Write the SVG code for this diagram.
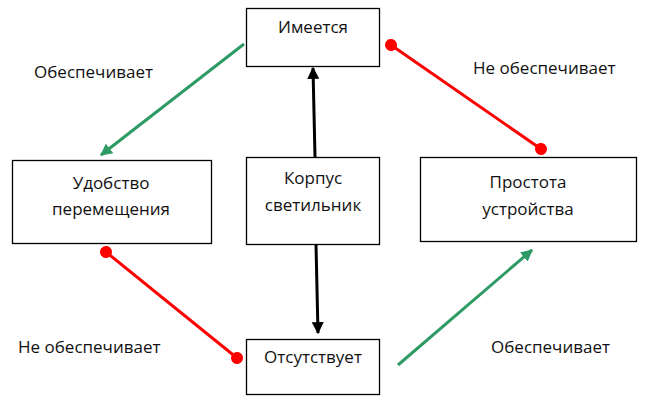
<svg xmlns="http://www.w3.org/2000/svg" width="650" height="400" viewBox="0 0 650 400">
  <style>
    .box { fill: #ffffff; stroke: #000000; stroke-width: 1.3; }
    .t { font-family: "Open Sans", "Liberation Sans", sans-serif; font-size: 17px; fill: #111111; }
    .mid { text-anchor: middle; }
    .black { stroke: #000000; stroke-width: 3; fill: none; }
    .green { stroke: #2e9a64; stroke-width: 3; fill: none; }
    .red { stroke: #ff0000; stroke-width: 3; fill: none; }
  </style>
  <defs>
    <marker id="arrBlack" viewBox="0 0 10 10" refX="9" refY="5" markerWidth="4" markerHeight="4" orient="auto" markerUnits="strokeWidth">
      <path d="M0,0 L10,5 L0,10 z" fill="#000000"/>
    </marker>
    <marker id="arrGreen" viewBox="0 0 10 10" refX="9" refY="5" markerWidth="4" markerHeight="4" orient="auto" markerUnits="strokeWidth">
      <path d="M0,0 L10,5 L0,10 z" fill="#2e9a64"/>
    </marker>
    <marker id="dotRed" viewBox="0 0 10 10" refX="5" refY="5" markerWidth="4" markerHeight="4" orient="auto" markerUnits="strokeWidth">
      <circle cx="5" cy="5" r="5" fill="#ff0000"/>
    </marker>
  </defs>

  <g id="connectors">
    <line class="black" x1="315" y1="157" x2="313" y2="68" marker-end="url(#arrBlack)"/>
    <line class="black" x1="316" y1="244" x2="318" y2="333" marker-end="url(#arrBlack)"/>
    <line class="green" x1="244" y1="44" x2="101" y2="155" marker-end="url(#arrGreen)"/>
    <line class="green" x1="398" y1="365" x2="532" y2="250" marker-end="url(#arrGreen)"/>
    <line class="red" x1="391" y1="45" x2="541" y2="149" marker-start="url(#dotRed)" marker-end="url(#dotRed)"/>
    <line class="red" x1="106" y1="252" x2="237" y2="358" marker-start="url(#dotRed)" marker-end="url(#dotRed)"/>
  </g>

  <g id="labels">
    <text class="t" x="34" y="78">Обеспечивает</text>
    <text class="t" x="473" y="74">Не обеспечивает</text>
    <text class="t" x="18" y="353">Не обеспечивает</text>
    <text class="t" x="491" y="353">Обеспечивает</text>
  </g>

  <g id="node-imeetsya">
    <rect class="box" x="246.5" y="8.5" width="133" height="58"/>
    <text class="t mid" x="313" y="33">Имеется</text>
  </g>

  <g id="node-korpus">
    <rect class="box" x="246.5" y="157.5" width="133" height="87"/>
    <text class="t mid" x="313" y="184">Корпус</text>
    <text class="t mid" x="313" y="211">светильник</text>
  </g>

  <g id="node-otsutstvuet">
    <rect class="box" x="246.5" y="339.5" width="133" height="55"/>
    <text class="t mid" x="313" y="363">Отсутствует</text>
  </g>

  <g id="node-udobstvo">
    <rect class="box" x="12.5" y="160.5" width="199" height="83"/>
    <text class="t mid" x="111" y="189">Удобство</text>
    <text class="t mid" x="111" y="215">перемещения</text>
  </g>

  <g id="node-prostota">
    <rect class="box" x="420.5" y="157.5" width="216" height="84"/>
    <text class="t mid" x="528" y="188">Простота</text>
    <text class="t mid" x="528" y="215">устройства</text>
  </g>
</svg>
